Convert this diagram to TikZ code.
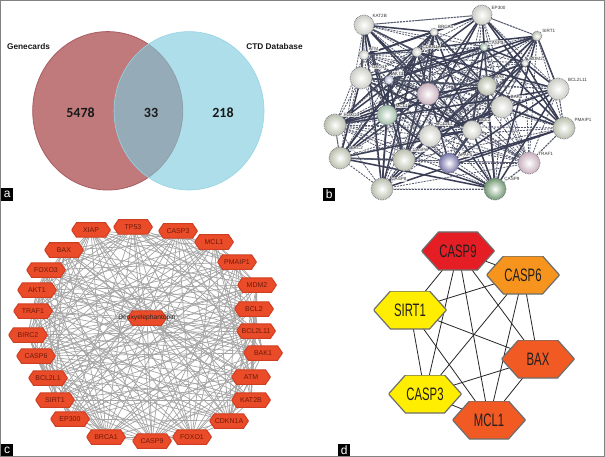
\documentclass[tikz,border=0pt]{standalone}
\usepackage{fontspec}
\setmainfont{Liberation Sans}
\newfontfamily\carlito{Carlito}
\usepackage{graphicx}
\usetikzlibrary{backgrounds}
\definecolor{frameG}{RGB}{130,130,130}
\definecolor{vRed}{RGB}{192,122,124}
\definecolor{vRedB}{RGB}{170,92,96}
\definecolor{vBlue}{RGB}{124,202,221}
\definecolor{vBlueB}{RGB}{150,212,230}
\definecolor{vText}{RGB}{25,25,25}
\definecolor{cHex}{RGB}{234,76,42}
\definecolor{cHexB}{RGB}{205,62,35}
\definecolor{cText}{RGB}{110,25,10}
\definecolor{cEdge}{RGB}{165,165,165}
\definecolor{bEdge}{RGB}{58,62,85}
\definecolor{bWhite}{RGB}{205,205,198}
\definecolor{bGreen}{RGB}{160,190,168}
\definecolor{bDGreen}{RGB}{110,150,110}
\definecolor{bPink}{RGB}{200,175,188}
\definecolor{bBlue}{RGB}{120,118,170}
\definecolor{bLav}{RGB}{190,190,215}
\definecolor{bGray}{RGB}{185,190,172}
\definecolor{dRed}{RGB}{228,30,36}
\definecolor{dOrange}{RGB}{247,148,29}
\definecolor{dYellow}{RGB}{255,238,0}
\definecolor{dRedOr}{RGB}{241,90,34}
\definecolor{dBorder}{RGB}{110,110,110}
\definecolor{dText}{RGB}{35,31,32}
\newcommand{\dtxt}[1]{\scalebox{0.63}[1]{#1}}
\begin{document}
\begin{tikzpicture}[x=1pt,y=-1pt,
  plabel/.style={fill=black, text=white, inner sep=0pt, minimum width=12pt, minimum height=13pt,
    font=\fontsize{12}{12}\selectfont, anchor=north west},
  vlabel/.style={font=\bfseries\fontsize{8.3}{10}\selectfont, text=vText},
  vnum/.style={font=\carlito\bfseries\fontsize{14}{16}\selectfont, text=vText},
  hexc/.style={rectangle, inner sep=0pt, minimum width=39pt, minimum height=14.5pt,
    font=\fontsize{7}{8}\selectfont, text=cText,
    path picture={\filldraw[fill=cHex, draw=cHexB, line width=1pt]
      (path picture bounding box.west) -- ([xshift=5pt]path picture bounding box.north west)
      -- ([xshift=-5pt]path picture bounding box.north east) -- (path picture bounding box.east)
      -- ([xshift=-5pt]path picture bounding box.south east) -- ([xshift=5pt]path picture bounding box.south west) -- cycle;}},
  cedge/.style={cEdge, line width=0.7pt},
  hexd/.style={rectangle, inner sep=0pt, minimum width=73pt, minimum height=38pt,
    font=\fontsize{18}{20}\selectfont, text=dText,
    path picture={\filldraw[fill=#1, draw=dBorder, line width=1.2pt]
      (path picture bounding box.west) -- ([xshift=17pt]path picture bounding box.north west)
      -- ([xshift=-17pt]path picture bounding box.north east) -- (path picture bounding box.east)
      -- ([xshift=-17pt]path picture bounding box.south east) -- ([xshift=17pt]path picture bounding box.south west) -- cycle;}},
  dedge/.style={black!85, line width=0.8pt},
  bball/.style={circle, inner sep=0pt, inner color=white, outer color=#1, draw=bEdge!75, densely dotted, line width=0.7pt},
  blbl/.style={font=\fontsize{4.6}{5}\selectfont, text=black!80, inner sep=0.5pt, fill=white, fill opacity=0.75, text opacity=1, anchor=south west},
  bthick/.style={bEdge, line width=1.5pt},
  bthin/.style={bEdge!85, line width=0.8pt, dash pattern=on 2pt off 1pt},
  bhull/.style={bEdge!85, line width=0.9pt, dash pattern=on 2pt off 1.2pt}
]
\useasboundingbox (0,0) rectangle (605,457);

% ---------- panel a : Venn ----------
\filldraw[fill=vRed, draw=vRedB, line width=0.8pt] (107.7,110.8) ellipse [x radius=75, y radius=79.2];
\filldraw[fill=vBlue, fill opacity=0.62, draw=vBlueB, line width=0.6pt] (189,110.8) ellipse [x radius=75, y radius=79.2];
\node[vlabel] (gc) at (28.5,47) {Genecards};
\node[vlabel] (ctd) at (274.5,47) {CTD Database};
\node[vnum] (n1) at (80.5,113) {5478};
\node[vnum] (n2) at (151,113) {33};
\node[vnum] (n3) at (223,113) {218};

% ---------- panel b : STRING network ----------
\foreach \n/\x/\y/\r/\c in {
  b1/364/25/10/bWhite, b2/482/15/10/bWhite, b3/434/32/4/bWhite,
  b4/537/36/5/bGray, b5/484/47/4/bGreen, b6/417/52/5/bWhite,
  b7/364/55/5/bWhite, b8/525/63/3.5/bWhite, b9/361/78/11/bWhite,
  b10/389/80/4.5/bLav, b11/487/86/9.5/bGray, b12/428/94/11/bPink,
  b13/558/89/11/bWhite, b14/502/107/11/bWhite, b15/387/115/10/bGreen,
  b16/335/125/11/bGray, b17/564/128/11/bGray, b18/472/130/9.5/bWhite,
  b19/430/136/11/bWhite, b20/340/158/11/bGray, b21/404/160/11/bGray,
  b22/449/163/10/bBlue, b23/529/163/11/bPink, b24/382/189/11/bGray,
  b25/495/189/11/bDGreen}
  \node[bball=\c, minimum size=2*\r pt] (\n) at (\x,\y) {};
\foreach \n/\t/\a in {
  b1/KAT2B/40, b2/EP300/30, b3/BRCA1/40, b4/SIRT1/30, b5/CASP3/30, b6/CDKN1A/30,
  b7/ATM/40, b8/MDM2/20, b9/FOXO1/50, b10/AKT1/60, b11/BAX/40, b13/BCL2L11/35,
  b14/BAK1/45, b15/MCL1/40, b16/FOXO3/45, b17/PMAIP1/30, b18/BCL2/50, b19/BCL2L1/60,
  b20/BIRC2/40, b21/CASP6/45, b22/APAF1/35, b23/TRAF1/40, b24/CASP8/40, b25/CASP9/40}
  \node[blbl] (\n l) at (\n.\a) {\t};

% ---------- panel c : circle network ----------
\foreach \n/\x/\y/\t in {
  c1/133/227/TP53, c2/178/231/CASP3, c3/214/242/MCL1, c4/237/262/PMAIP1, c5/257/285/MDM2,
  c6/254/309/BCL2, c7/256/331/BCL2L11, c8/263/353/BAK1, c9/251/377/ATM, c10/251/400/KAT2B,
  c11/229/421/CDKN1A, c12/192/437/FOXO1, c13/152/441/CASP9, c14/106/437/BRCA1, c15/70/419/EP300,
  c16/55/400/SIRT1, c17/48/378/BCL2L1, c18/36/356/CASP6, c19/28/335/BIRC2, c20/33/311/TRAF1,
  c21/37/290/AKT1, c22/46/270/FOXO3, c23/64/250/BAX, c24/91/230/XIAP}
  \node[hexc] (\n) at (\x,\y) {\t};
\node[hexc] (c0) at (147,318) {};
\node[font=\fontsize{6.7}{7}\selectfont, text=black!85, inner sep=0pt] (c0t) at (c0) {Deoxyelephantopin};

% ---------- panel d : hub genes ----------
\node[hexd=dRed] (d1) at (458,251) {\dtxt{CASP9}};
\node[hexd=dOrange] (d2) at (523,275) {\dtxt{CASP6}};
\node[hexd=dYellow] (d3) at (410,310) {\dtxt{SIRT1}};
\node[hexd=dRedOr] (d4) at (538,359) {\dtxt{BAX}};
\node[hexd=dYellow] (d5) at (425,394) {\dtxt{CASP3}};
\node[hexd=dRedOr] (d6) at (489,420) {\dtxt{MCL1}};

% ---------- connectors ----------
\begin{scope}[on background layer]
  \fill[white] (0,0) rectangle (605,457);
  % panel b
  \foreach \i in {1,...,25}{\foreach \j in {1,...,25}{%
    \ifnum\j>\i
      \pgfmathtruncatemacro\r{mod(\i*\j*5+\i*2+\j,9)}%
      \ifnum\r<3 \draw[bthick] (b\i.center) -- (b\j.center);
      \else\ifnum\r<6 \draw[bthin] (b\i.center) -- (b\j.center);\fi\fi
    \fi}}
  \draw[bhull] (b1) -- (b2) -- (b4) -- (b13) -- (b17) -- (b23) -- (b25) -- (b24) -- (b20) -- (b16) -- (b9) -- (b7) -- (b1);
  % panel c
  \foreach \i in {1,...,24}{\foreach \j in {1,...,24}{%
    \ifnum\j>\i
      \pgfmathtruncatemacro\r{mod(\i*\j+3*\i+7*\j,7)}%
      \ifnum\r<5 \draw[cedge] (c\i.center) -- (c\j.center);\fi
    \fi}}
  \foreach \i in {1,...,24} \draw[cedge] (c0.center) -- (c\i.center);
  % panel d
  \foreach \i in {1,...,6}{\foreach \j in {1,...,6}{%
    \ifnum\j>\i \draw[dedge] (d\i.center) -- (d\j.center);\fi}}
\end{scope}

% ---------- panel letters and frame ----------
\node[plabel] (la) at (1,188) {a};
\node[plabel] (lb) at (323,188) {b};
\node[plabel] (lc) at (1,444) {c};
\node[plabel] (ld) at (338,444) {d};
\draw[frameG, line width=1.2pt] (0.6,0.6) rectangle (604.4,456.4);
\end{tikzpicture}
\end{document}
